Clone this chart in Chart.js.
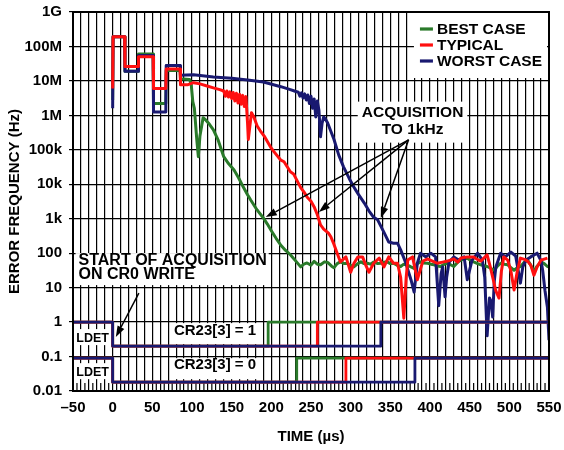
<!DOCTYPE html>
<html>
<head>
<meta charset="utf-8">
<script src="https://cdn.jsdelivr.net/npm/chart.js@4.4.1/dist/chart.umd.min.js"></script>
<style>
  html, body { margin: 0; padding: 0; background: #fff; }
  canvas { display: block; }
</style>
</head>
<body>
<canvas id="chart" width="564" height="450"></canvas>
<script>
// Axis ticks
const timeTickLabels = ['–50', '0', '50', '100', '150', '200', '250', '300', '350', '400', '450', '500', '550'];
const freqTickValues = [0.01, 0.1, 1, 10, 100, 1e3, 1e4, 1e5, 1e6, 1e7, 1e8, 1e9];
const freqTickLabels = ['0.01', '0.1', '1', '10', '100', '1k', '10k', '100k', '1M', '10M', '100M', '1G'];

const seriesNames = ['BEST CASE', 'TYPICAL', 'WORST CASE'];
const seriesColors = ['#2a7a2a', '#ff1010', '#191970'];

// Error frequency vs time, [time µs, error Hz]
const bestCase = [
  [0, 2.8e6], [0.5, 1.9e8], [15, 1.9e8], [15.5, 1.9e7], [32, 1.9e7], [32.5, 6e7], [51, 6e7], [51.5, 2.2e6],
  [67, 2.2e6], [67.5, 2e7], [85, 2e7], [85.5, 1.15e7], [97, 1.1e7], [99, 8e6], [101, 2.5e6], [103, 1.6e6],
  [106, 2e5], [108, 6.3e4], [110, 2.5e5], [114, 8.5e5], [117, 7.5e5], [122, 5.5e5], [127, 3.8e5], [133, 1.9e5],
  [140, 6.3e4], [146, 4e4], [153, 2.6e4], [159, 1.5e4], [165, 8e3], [170, 5e3], [174, 3.5e3], [182, 1.8e3],
  [190, 1.05e3], [195, 7e2], [200, 4.5e2], [206, 2.7e2], [212, 1.7e2], [218, 1.2e2], [224, 90], [232, 55],
  [237, 40], [241, 48], [245, 52], [250, 45], [254, 58], [258, 48], [262, 46], [267, 56], [271, 54], [276, 42],
  [279, 38], [283, 50], [287, 56], [292, 50], [296, 50], [300, 44], [304, 40], [309, 50], [313, 56], [317, 50],
  [321, 51], [325, 48], [329, 55], [334, 50], [338, 51], [342, 55], [346, 56], [350, 50], [354, 51], [359, 44],
  [363, 41], [367, 48], [371, 46], [376, 40], [380, 36], [384, 50], [388, 56], [392, 52], [397, 51], [401, 48],
  [405, 46], [409, 43], [413, 41], [418, 48], [422, 51], [426, 46], [430, 41], [435, 55], [439, 63], [443, 68],
  [447, 71], [451, 62], [455, 56], [460, 50], [464, 46], [468, 43], [472, 41], [477, 36], [481, 32], [485, 42],
  [489, 51], [494, 48], [498, 46], [502, 38], [506, 32], [510, 38], [514, 41], [519, 55], [523, 63], [527, 45],
  [531, 30], [535, 42], [540, 56], [544, 50], [548, 41], [550, 40]
];
const typical = [
  [0, 6e6], [0.5, 1.9e8], [15, 1.9e8], [15.5, 2.6e7], [32, 2.6e7], [32.5, 5e7], [51, 5e7], [51.5, 6e6],
  [67, 6e6], [67.5, 2.2e7], [85, 2.2e7], [85.5, 7.8e6], [95, 7.8e6], [100, 8.6e6], [102, 8.9e6], [110, 8.2e6],
  [120, 7e6], [127, 6.3e6], [135, 5.6e6], [140, 5.1e6], [142, 3.6e6], [144, 5.1e6], [146, 3.4e6], [148, 4.8e6],
  [150, 3.1e6], [152, 4.6e6], [154, 2.6e6], [156, 4.4e6], [158, 2.3e6], [160, 4.1e6], [162, 2.1e6], [164, 3.8e6],
  [166, 1.8e6], [168, 3.5e6], [170, 6e5], [171, 2e5], [172.5, 4e5], [175, 1.2e6], [178, 9e5], [182, 5e5],
  [187, 3.3e5], [191, 2.5e5], [199, 1.2e5], [203, 9e4], [212, 5e4], [216, 4.5e4], [224, 2.3e4], [228, 2e4],
  [237, 8e3], [241, 6e3], [245, 4.3e3], [250, 3.2e3], [254, 2.2e3], [258, 1.3e3], [262, 660], [266, 500],
  [272, 380], [275, 300], [279, 180], [283, 100], [287, 56], [294, 78], [300, 28], [304, 50], [309, 78],
  [315, 78], [319, 45], [323, 28], [329, 51], [336, 72], [342, 40], [348, 78], [354, 51], [359, 51], [363, 20],
  [367, 1.3], [370, 20], [372, 63], [378, 78], [384, 17], [391, 59], [397, 68], [403, 59], [409, 51], [416, 55],
  [422, 59], [430, 68], [435, 55], [439, 72], [447, 78], [455, 78], [460, 65], [464, 59], [472, 89], [476, 40],
  [479, 20], [483, 8], [487, 5], [490, 30], [493, 78], [498, 63], [502, 30], [506, 8.5], [510, 30], [514, 72],
  [519, 66], [523, 59], [527, 45], [531, 23], [535, 40], [540, 63], [548, 72]
];
const worstCase = [
  [0, 1.6e6], [0.5, 1.9e8], [15, 1.9e8], [15.5, 1.9e7], [32, 1.9e7], [32.5, 5.5e7], [51, 5.5e7], [51.5, 1.25e6],
  [67, 1.25e6], [67.5, 2.8e7], [85, 2.8e7], [85.5, 1.45e7], [102, 1.5e7], [127, 1.3e7], [150, 1.2e7],
  [170, 1.07e7], [190, 9.3e6], [212, 6.8e6], [224, 5.6e6], [230, 5e6], [234, 4.7e6], [236, 3.6e6], [238, 4.5e6],
  [240, 3.2e6], [242, 4.2e6], [244, 2.8e6], [246, 3.9e6], [248, 2.2e6], [250, 3.6e6], [252, 1.6e6], [254, 3e6],
  [256, 9e5], [258, 2.6e6], [260, 1.4e6], [262, 2.4e5], [264, 6e5], [266, 9e5], [268, 8e5], [271, 6e5],
  [279, 2e5], [285, 7e4], [291, 3.2e4], [298, 1.5e4], [304, 8.3e3], [310, 5e3], [317, 2.9e3], [323, 1.7e3],
  [329, 1.1e3], [334, 930], [342, 400], [348, 210], [354, 195], [359, 195], [363, 125], [369, 56], [376, 17],
  [380, 7.4], [384, 51], [388, 100], [395, 78], [401, 100], [407, 78], [411, 3], [414, 25], [416, 40], [419, 5.4],
  [421, 20], [424, 55], [430, 78], [436, 63], [443, 78], [447, 17], [453, 63], [460, 100], [466, 63], [469, 20],
  [472, 0.4], [475, 5], [477, 4], [479, 1.4], [481, 15], [483, 40], [489, 100], [495, 78], [502, 107], [508, 83],
  [514, 13.5], [517, 40], [521, 63], [527, 78], [535, 100], [540, 60], [542, 32], [545, 8], [548, 2.7], [550, 0.3]
];

// Lock-detect (LDET) traces: CR0 write at t = 0, lock times for best/typical/worst (µs)
const cr0WriteTime = 0;
const lockTimeCR23Set = [196, 258, 338];
const lockTimeCR23Clear = [232, 294, 381];
const ldetLevelsCR23Set = [1, 0.2];      // [locked, unlocked]
const ldetLevelsCR23Clear = [0.09, 0.018];

const X_MIN = -50, X_MAX = 550;

function toPoints(pairs) {
  return pairs.map(([t, f]) => ({ x: t, y: f }));
}
function ldetTrace(lockTime, levels) {
  const [hi, lo] = levels;
  return [
    { x: X_MIN, y: hi }, { x: cr0WriteTime, y: hi }, { x: cr0WriteTime, y: lo },
    { x: lockTime, y: lo }, { x: lockTime, y: hi }, { x: X_MAX, y: hi }
  ];
}

const curves = [bestCase, typical, worstCase];
const curveOrder = [6, 4, 5];   // typical on top, best case underneath
const stepOrder = [3, 2, 1];    // worst case trace on top

const datasets = [];
curves.forEach((c, i) => {
  datasets.push({
    label: seriesNames[i], legendRank: i, data: toPoints(c),
    borderColor: seriesColors[i], borderWidth: 3, order: curveOrder[i]
  });
});
[lockTimeCR23Set, lockTimeCR23Clear].forEach((times, k) => {
  const levels = k === 0 ? ldetLevelsCR23Set : ldetLevelsCR23Clear;
  times.forEach((t, i) => {
    datasets.push({
      label: seriesNames[i] + ' LDET', data: ldetTrace(t, levels),
      borderColor: seriesColors[i], borderWidth: 2.8, order: stepOrder[i]
    });
  });
});

const FONT = '"Liberation Sans", Arial, Helvetica, sans-serif';
const bold = size => `bold ${size}px ${FONT}`;

// Text blocks, arrows and legend drawn over the plot
const overlayPlugin = {
  id: 'overlay',
  beforeDatasetsDraw(chart, _a, opts) {
    const { ctx, chartArea: area, scales: { x, y } } = chart;
    ctx.save();
    // short minor ticks along the bottom edge
    ctx.strokeStyle = '#000';
    ctx.lineWidth = 1.2;
    for (let t = X_MIN + opts.minorStep; t < X_MAX; t += 2 * opts.minorStep) {
      const px = x.getPixelForValue(t);
      ctx.beginPath();
      ctx.moveTo(px, area.bottom);
      ctx.lineTo(px, area.bottom - opts.minorLength);
      ctx.stroke();
    }
    ctx.fillStyle = '#fff';
    for (const note of opts.notes) {
      const b = noteBox(ctx, note, x, y);
      ctx.fillRect(b.left, b.top, b.right - b.left, b.bottom - b.top);
    }
    const lg = legendBox(ctx, chart, opts.legend);
    ctx.fillRect(lg.left, lg.top, lg.width, lg.height);
    ctx.restore();
  },
  afterDatasetsDraw(chart, _a, opts) {
    const { ctx, chartArea: area, scales: { x, y } } = chart;
    ctx.save();
    ctx.fillStyle = '#000';
    ctx.textBaseline = 'middle';
    for (const note of opts.notes) {
      ctx.font = bold(note.size);
      ctx.textAlign = note.align;
      const px = x.getPixelForValue(note.x), py = y.getPixelForValue(note.y);
      note.lines.forEach((line, i) => ctx.fillText(line, px, py + i * note.gap));
    }
    ctx.strokeStyle = '#000';
    ctx.lineWidth = 1.5;
    for (const ar of opts.arrows) {
      const x0 = x.getPixelForValue(ar.from[0]), y0 = y.getPixelForValue(ar.from[1]);
      const x1 = x.getPixelForValue(ar.to[0]), y1 = y.getPixelForValue(ar.to[1]);
      const ang = Math.atan2(y1 - y0, x1 - x0);
      const len = 11, half = 3.8;
      const bx = x1 - len * Math.cos(ang), by = y1 - len * Math.sin(ang);
      ctx.beginPath();
      ctx.moveTo(x0, y0);
      ctx.lineTo(bx, by);
      ctx.stroke();
      ctx.beginPath();
      ctx.moveTo(x1, y1);
      ctx.lineTo(bx + half * Math.sin(ang), by - half * Math.cos(ang));
      ctx.lineTo(bx - half * Math.sin(ang), by + half * Math.cos(ang));
      ctx.closePath();
      ctx.fill();
    }
    // legend entries
    const lg = legendBox(ctx, chart, opts.legend);
    ctx.font = bold(opts.legend.size);
    ctx.textAlign = 'left';
    lg.items.forEach((ds, i) => {
      const cy = lg.top + opts.legend.firstRow + i * opts.legend.rowGap;
      ctx.strokeStyle = ds.borderColor;
      ctx.lineWidth = 3.2;
      ctx.beginPath();
      ctx.moveTo(lg.left + 6, cy);
      ctx.lineTo(lg.left + 19, cy);
      ctx.stroke();
      ctx.fillStyle = '#000';
      ctx.fillText(ds.label, lg.left + 23, cy + 0.5);
    });
    // plot frame
    ctx.strokeStyle = '#000';
    ctx.lineWidth = 2;
    ctx.strokeRect(area.left, area.top, area.right - area.left, area.bottom - area.top);
    ctx.restore();
  }
};

function noteBox(ctx, note, x, y) {
  ctx.font = bold(note.size);
  const w = Math.max(...note.lines.map(l => ctx.measureText(l).width));
  const px = x.getPixelForValue(note.x), py = y.getPixelForValue(note.y);
  const left = note.align === 'left' ? px : px - w / 2;
  return {
    left: left - note.pad[3], right: left + w + note.pad[1],
    top: py - note.pad[0], bottom: py + (note.lines.length - 1) * note.gap + note.pad[2]
  };
}
function legendBox(ctx, chart, cfg) {
  const items = chart.data.datasets.filter(d => d.legendRank !== undefined)
    .sort((a, b) => a.legendRank - b.legendRank);
  ctx.font = bold(cfg.size);
  const w = Math.max(...items.map(d => ctx.measureText(d.label).width)) + 28;
  const area = chart.chartArea;
  return { items, left: area.right - 2 - w, top: area.top + 1, width: w, height: cfg.height };
}

new Chart(document.getElementById('chart'), {
  type: 'line',
  data: { datasets },
  plugins: [overlayPlugin],
  options: {
    responsive: false,
    animation: false,
    devicePixelRatio: 1,
    layout: { padding: { top: 12, right: 15, bottom: 0, left: 0 } },
    elements: {
      point: { radius: 0 },
      line: { tension: 0, borderJoinStyle: 'round', borderCapStyle: 'butt' }
    },
    plugins: {
      legend: { display: false },
      tooltip: { enabled: false },
      overlay: {
        minorStep: 5,
        minorLength: 8,
        legend: { size: 15.5, height: 65, firstRow: 16, rowGap: 16 },
        notes: [
          { lines: ['ACQUISITION', 'TO 1kHz'], x: 378, y: 1.2e6, align: 'center', size: 15.5, gap: 17, pad: [11, 4, 13, 4] },
          { lines: ['START OF ACQUISITION', 'ON CR0 WRITE'], x: -43, y: 63, align: 'left', size: 16, gap: 14, pad: [7, 2, 11, 3] },
          { lines: ['CR23[3] = 1'], x: 129, y: 0.547, align: 'center', size: 15, gap: 0, pad: [8, 5, 13, 3] },
          { lines: ['CR23[3] = 0'], x: 129, y: 0.0562, align: 'center', size: 15, gap: 0, pad: [7, 5, 14, 3] },
          { lines: ['LDET'], x: -25.2, y: 0.343, align: 'center', size: 12.5, gap: 0, pad: [9, 1, 7, 2] },
          { lines: ['LDET'], x: -25.2, y: 0.0352, align: 'center', size: 12.5, gap: 0, pad: [9, 1, 7, 2] }
        ],
        arrows: [
          { from: [373, 1.95e5], to: [193, 1.12e3] },
          { from: [373, 1.95e5], to: [260, 1.58e3] },
          { from: [373, 1.95e5], to: [338, 1.05e3] },
          { from: [33, 6.9], to: [4, 0.37] }
        ]
      }
    },
    scales: {
      x: {
        type: 'linear', min: X_MIN, max: X_MAX,
        afterFit: s => { s.height = 59; s.paddingLeft = 0; s.paddingRight = 0; },
        ticks: {
          stepSize: 10, autoSkip: false, maxRotation: 0, minRotation: 0, padding: 8,
          color: '#000', font: { family: FONT, size: 15, weight: 'bold' },
          callback: v => {
            const r = Math.round(v);
            return r % 50 === 0 ? timeTickLabels[(r - X_MIN) / 50] : '';
          }
        },
        grid: { color: '#000', lineWidth: 1.2, drawTicks: false },
        border: { color: '#000', width: 2 },
        title: {
          display: true, text: 'TIME (µs)', color: '#000',
          font: { family: FONT, size: 15, weight: 'bold' }, padding: { top: 0, bottom: 4 }
        }
      },
      y: {
        type: 'logarithmic', min: 0.01, max: 1e9,
        afterFit: s => { s.width = 73; s.paddingTop = 0; s.paddingBottom = 0; },
        afterBuildTicks: s => { s.ticks = freqTickValues.map(v => ({ value: v })); },
        ticks: {
          autoSkip: false, padding: 7, color: '#000',
          font: { family: FONT, size: 15, weight: 'bold' },
          callback: v => freqTickLabels[Math.round(Math.log10(v)) + 2]
        },
        grid: { color: '#000', lineWidth: 1.2, tickLength: 4 },
        border: { color: '#000', width: 2 },
        title: {
          display: true, text: 'ERROR FREQUENCY (Hz)', color: '#000',
          font: { family: FONT, size: 15, weight: 'bold' }, padding: { top: 6, bottom: 0 }
        }
      }
    }
  }
});
</script>
</body>
</html>
